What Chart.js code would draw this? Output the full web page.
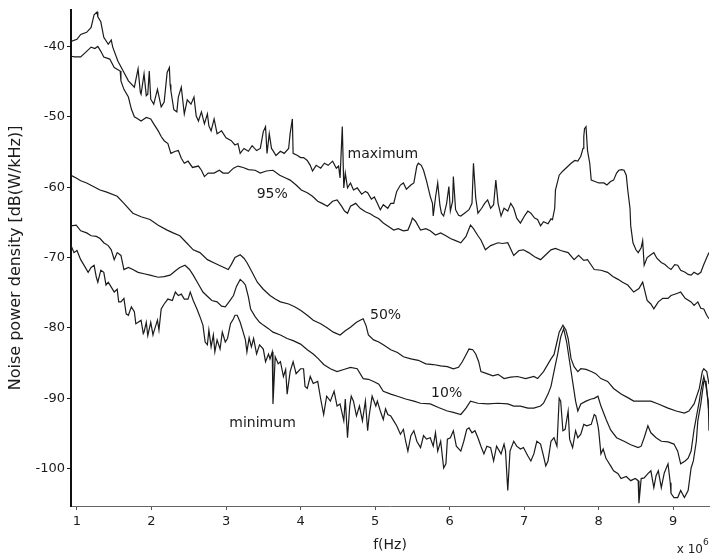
<!DOCTYPE html>
<html>
<head>
<meta charset="utf-8">
<title>Noise power density</title>
<script src="https://cdn.jsdelivr.net/npm/chart.js@4.4.1/dist/chart.umd.min.js"></script>
<style>
  html, body { margin: 0; padding: 0; background: #fff; }
  canvas { display: block; }
</style>
</head>
<body>
<canvas id="psdChart" width="710" height="558"></canvas>
<script>
// axis ticks
const freqTicks = [1, 2, 3, 4, 5, 6, 7, 8, 9];
const dbTicks = [-100, -90, -80, -70, -60, -50, -40];

// maximum
const maxFreq = [
  0.92, 1.00, 1.05, 1.13, 1.19, 1.23, 1.27, 1.28, 1.32, 1.36,
  1.42, 1.46, 1.48, 1.55, 1.62, 1.69, 1.77, 1.82, 1.85, 1.86,
  1.90, 1.93, 1.95, 1.97, 1.99, 2.03, 2.08, 2.13, 2.17, 2.21,
  2.24, 2.25, 2.26, 2.30, 2.34, 2.36, 2.40, 2.44, 2.48, 2.53,
  2.57, 2.60, 2.63, 2.67, 2.71, 2.75, 2.77, 2.80, 2.84, 2.88,
  2.94, 3.00, 3.07, 3.12, 3.16, 3.19, 3.24, 3.30, 3.35, 3.41,
  3.46, 3.50, 3.53, 3.55, 3.58, 3.61, 3.63, 3.67, 3.73, 3.78,
  3.84, 3.86, 3.89, 3.90, 3.96, 4.00, 4.04, 4.09, 4.13, 4.16,
  4.21, 4.27, 4.32, 4.37, 4.43, 4.48, 4.51, 4.53, 4.56, 4.58,
  4.60, 4.63, 4.67, 4.71, 4.76, 4.82, 4.87, 4.90, 4.95, 4.99,
  5.03, 5.07, 5.11, 5.17, 5.21, 5.25, 5.29, 5.34, 5.38, 5.42,
  5.48, 5.52, 5.56, 5.58, 5.62, 5.65, 5.69, 5.74, 5.77, 5.78,
  5.81, 5.84, 5.87, 5.89, 5.92, 5.96, 5.99, 6.01, 6.04, 6.05,
  6.08, 6.12, 6.15, 6.20, 6.26, 6.30, 6.32, 6.35, 6.38, 6.43,
  6.47, 6.51, 6.55, 6.59, 6.62, 6.65, 6.69, 6.73, 6.78, 6.82,
  6.86, 6.90, 6.95, 7.01, 7.05, 7.09, 7.14, 7.18, 7.22, 7.26,
  7.32, 7.36, 7.38, 7.41, 7.42, 7.47, 7.52, 7.57, 7.63, 7.68,
  7.72, 7.76, 7.79, 7.80, 7.81, 7.83, 7.85, 7.88, 7.90, 7.95,
  8.00, 8.07, 8.11, 8.16, 8.20, 8.24, 8.27, 8.31, 8.34, 8.37,
  8.39, 8.42, 8.43, 8.46, 8.50, 8.53, 8.57, 8.59, 8.61, 8.65,
  8.70, 8.74, 8.78, 8.84, 8.89, 8.93, 8.97, 9.02, 9.06, 9.10,
  9.16, 9.20, 9.24, 9.28, 9.33, 9.37, 9.41, 9.45, 9.48
];
const maxDb = [
  -39.3, -39.0, -38.3, -38.0, -37.3, -35.5, -35.1, -35.8, -36.5, -38.7,
  -39.7, -39.1, -40.1, -42.1, -43.5, -44.9, -45.8, -43.2, -46.5, -46.8,
  -43.9, -47.0, -46.8, -43.5, -47.5, -48.2, -46.1, -48.6, -47.9, -43.7,
  -43.0, -45.4, -46.3, -49.0, -49.3, -47.2, -45.8, -49.6, -47.6, -48.2,
  -47.2, -49.9, -50.6, -49.3, -51.0, -49.6, -51.3, -52.0, -50.3, -52.4,
  -52.0, -53.0, -53.4, -54.0, -53.8, -55.2, -54.5, -54.9, -54.1, -54.8,
  -54.5, -52.1, -51.4, -55.2, -52.4, -54.5, -54.8, -55.5, -54.9, -55.2,
  -54.5, -52.4, -50.3, -55.2, -55.5, -55.8, -55.8, -56.2, -56.9, -57.7,
  -56.9, -57.3, -56.6, -56.9, -56.3, -57.3, -57.0, -58.7, -51.4, -60.1,
  -58.0, -60.1, -59.4, -60.4, -60.1, -61.0, -60.6, -60.8, -61.7, -61.4,
  -62.3, -63.2, -62.5, -63.0, -62.3, -62.3, -60.6, -59.7, -59.4, -60.3,
  -59.7, -59.4, -57.0, -56.6, -56.9, -57.6, -59.1, -61.3, -62.3, -64.1,
  -61.5, -59.4, -62.6, -63.7, -64.1, -62.3, -59.9, -63.4, -62.0, -58.5,
  -63.2, -64.0, -64.1, -63.7, -63.2, -62.3, -56.6, -61.5, -63.7, -63.0,
  -62.3, -61.8, -63.0, -62.5, -59.0, -62.3, -64.1, -63.0, -63.4, -62.3,
  -63.0, -64.4, -65.1, -64.0, -63.4, -63.7, -64.4, -64.6, -65.5, -64.9,
  -65.2, -64.5, -64.6, -63.0, -60.4, -58.3, -57.7, -57.2, -56.6, -56.2,
  -56.3, -55.6, -54.5, -52.8, -51.7, -51.4, -54.8, -56.6, -59.0, -59.2,
  -59.4, -59.4, -59.7, -59.2, -59.0, -58.0, -57.6, -57.5, -57.6, -58.3,
  -60.4, -63.0, -65.5, -67.9, -68.9, -69.3, -68.6, -67.6, -71.1, -70.0,
  -69.6, -69.3, -70.1, -70.7, -71.0, -71.4, -71.7, -71.0, -71.1, -71.8,
  -72.1, -72.4, -72.5, -72.1, -72.4, -72.1, -71.0, -70.0, -69.3
];

// 95 %
const p95Freq = [
  0.92, 0.97, 1.05, 1.13, 1.19, 1.24, 1.28, 1.32, 1.36, 1.44,
  1.50, 1.58, 1.59, 1.63, 1.69, 1.73, 1.77, 1.82, 1.86, 1.93,
  1.99, 2.03, 2.09, 2.13, 2.17, 2.22, 2.26, 2.32, 2.36, 2.40,
  2.44, 2.49, 2.55, 2.63, 2.67, 2.71, 2.76, 2.84, 2.91, 2.96,
  3.03, 3.10, 3.16, 3.23, 3.30, 3.39, 3.46, 3.54, 3.63, 3.72,
  3.80, 3.86, 3.94, 4.01, 4.09, 4.16, 4.23, 4.29, 4.36, 4.43,
  4.49, 4.55, 4.59, 4.63, 4.67, 4.74, 4.80, 4.87, 4.94, 4.98,
  5.05, 5.11, 5.18, 5.25, 5.31, 5.38, 5.44, 5.48, 5.50, 5.54,
  5.61, 5.68, 5.74, 5.81, 5.88, 5.95, 6.01, 6.08, 6.15, 6.22,
  6.26, 6.28, 6.32, 6.38, 6.42, 6.48, 6.55, 6.65, 6.71, 6.78,
  6.86, 6.93, 6.99, 7.06, 7.14, 7.22, 7.29, 7.36, 7.42, 7.49,
  7.59, 7.67, 7.73, 7.80, 7.85, 7.94, 8.03, 8.12, 8.19, 8.26,
  8.32, 8.39, 8.47, 8.54, 8.59, 8.65, 8.70, 8.74, 8.80, 8.86,
  8.93, 8.97, 9.05, 9.10, 9.16, 9.24, 9.28, 9.33, 9.37, 9.41,
  9.45, 9.48
];
const p95Db = [
  -41.4, -41.5, -41.5, -40.7, -40.1, -40.3, -40.0, -40.7, -41.5, -41.8,
  -43.0, -43.5, -44.9, -46.1, -47.2, -48.9, -50.0, -50.3, -50.6, -50.1,
  -50.3, -51.0, -52.0, -52.8, -53.4, -53.8, -55.2, -54.9, -54.8, -55.9,
  -56.6, -56.3, -57.2, -57.0, -57.6, -58.5, -58.0, -58.0, -57.6, -58.0,
  -58.0, -57.3, -57.0, -57.2, -57.5, -57.6, -58.0, -57.7, -57.6, -58.3,
  -58.7, -59.0, -59.7, -60.4, -60.8, -61.3, -62.0, -62.3, -62.7, -62.0,
  -61.8, -62.7, -63.4, -63.7, -62.7, -62.3, -63.0, -63.5, -63.8, -64.1,
  -64.5, -65.1, -65.6, -66.1, -65.9, -66.2, -66.1, -65.1, -64.4, -64.8,
  -66.1, -65.9, -66.2, -66.8, -66.5, -66.9, -67.3, -67.6, -67.9, -67.0,
  -65.9, -65.4, -65.9, -66.9, -67.5, -68.9, -68.3, -67.9, -68.0, -67.9,
  -69.7, -69.0, -68.9, -69.3, -69.9, -70.3, -69.6, -68.9, -68.7, -69.0,
  -69.3, -70.3, -69.7, -70.4, -70.3, -71.7, -71.8, -72.1, -72.7, -73.1,
  -73.5, -73.9, -74.9, -74.4, -73.5, -76.1, -76.6, -77.3, -76.3, -75.8,
  -75.8, -75.4, -75.1, -74.9, -75.8, -76.3, -76.8, -76.3, -77.2, -77.3,
  -78.2, -78.7
];

// 50 %
const p50Freq = [
  0.92, 0.99, 1.05, 1.13, 1.22, 1.31, 1.40, 1.54, 1.63, 1.75,
  1.86, 1.98, 2.09, 2.21, 2.29, 2.38, 2.47, 2.56, 2.65, 2.75,
  2.85, 2.95, 3.03, 3.07, 3.12, 3.19, 3.24, 3.28, 3.35, 3.42,
  3.50, 3.59, 3.66, 3.73, 3.84, 3.92, 4.00, 4.09, 4.17, 4.27,
  4.36, 4.44, 4.53, 4.60, 4.67, 4.75, 4.80, 4.84, 4.88, 4.91,
  4.98, 5.05, 5.11, 5.21, 5.30, 5.38, 5.48, 5.58, 5.68, 5.78,
  5.88, 5.97, 6.05, 6.12, 6.17, 6.22, 6.26, 6.31, 6.35, 6.39,
  6.42, 6.50, 6.58, 6.65, 6.73, 6.82, 6.91, 7.02, 7.13, 7.18,
  7.26, 7.36, 7.40, 7.44, 7.47, 7.52, 7.56, 7.59, 7.63, 7.67,
  7.72, 7.76, 7.83, 7.90, 7.96, 8.03, 8.12, 8.20, 8.30, 8.39,
  8.47, 8.57, 8.70, 8.80, 8.93, 9.04, 9.15, 9.21, 9.28, 9.35,
  9.39, 9.41, 9.45, 9.48
];
const p50Db = [
  -58.3, -58.7, -59.1, -59.4, -59.9, -60.4, -60.7, -61.3, -62.3, -63.7,
  -64.2, -64.6, -65.4, -66.1, -66.5, -66.9, -67.9, -68.9, -69.3, -70.3,
  -70.8, -71.3, -71.7, -71.0, -70.0, -69.6, -70.1, -70.7, -72.1, -73.5,
  -74.5, -75.4, -75.9, -76.3, -76.6, -77.0, -77.5, -78.2, -78.9, -79.4,
  -80.0, -80.6, -81.0, -80.4, -79.9, -79.2, -78.9, -78.7, -79.7, -81.0,
  -81.7, -82.0, -82.4, -83.1, -83.5, -84.1, -84.4, -84.6, -85.1, -85.2,
  -85.4, -85.5, -85.8, -85.6, -84.8, -83.8, -83.0, -83.1, -83.7, -84.8,
  -86.2, -86.5, -86.8, -86.6, -87.2, -87.0, -86.9, -87.2, -86.9, -87.2,
  -86.2, -84.4, -83.8, -82.0, -80.6, -79.6, -80.3, -81.5, -84.4, -85.5,
  -86.2, -85.8, -85.9, -86.2, -86.5, -87.2, -87.6, -88.6, -89.4, -89.9,
  -90.4, -90.4, -90.4, -90.8, -91.4, -91.8, -92.1, -91.8, -90.8, -88.6,
  -86.2, -85.8, -86.2, -88.0
];

// 10 %
const p10Freq = [
  0.92, 0.99, 1.05, 1.13, 1.19, 1.26, 1.31, 1.36, 1.42, 1.46,
  1.50, 1.54, 1.59, 1.63, 1.69, 1.75, 1.82, 1.90, 1.98, 2.09,
  2.17, 2.25, 2.33, 2.38, 2.45, 2.51, 2.56, 2.63, 2.69, 2.76,
  2.81, 2.88, 2.94, 2.99, 3.04, 3.10, 3.14, 3.19, 3.23, 3.26,
  3.30, 3.33, 3.39, 3.45, 3.50, 3.57, 3.63, 3.73, 3.82, 3.90,
  4.00, 4.09, 4.17, 4.24, 4.31, 4.40, 4.49, 4.58, 4.67, 4.76,
  4.84, 4.91, 4.98, 5.05, 5.11, 5.21, 5.30, 5.41, 5.52, 5.61,
  5.74, 5.85, 5.97, 6.05, 6.15, 6.22, 6.28, 6.38, 6.51, 6.65,
  6.78, 6.86, 6.95, 7.05, 7.13, 7.22, 7.26, 7.32, 7.36, 7.40,
  7.45, 7.49, 7.53, 7.57, 7.61, 7.65, 7.69, 7.72, 7.76, 7.83,
  7.90, 7.94, 7.99, 8.03, 8.10, 8.16, 8.24, 8.34, 8.43, 8.53,
  8.57, 8.61, 8.66, 8.70, 8.77, 8.84, 8.93, 9.01, 9.06, 9.10,
  9.16, 9.20, 9.24, 9.28, 9.32, 9.35, 9.37, 9.41, 9.44, 9.47,
  9.48
];
const p10Db = [
  -65.5, -65.4, -66.2, -66.5, -66.9, -67.0, -67.3, -67.9, -68.3, -68.9,
  -70.3, -69.3, -69.7, -71.7, -71.4, -71.7, -72.1, -72.3, -72.5, -72.8,
  -72.7, -72.5, -71.8, -71.4, -71.1, -71.7, -72.5, -73.8, -74.9, -75.6,
  -76.1, -76.3, -76.9, -77.0, -76.3, -75.4, -74.1, -73.1, -73.5, -73.9,
  -75.6, -77.3, -78.4, -79.2, -79.6, -80.1, -80.6, -81.0, -81.5, -81.8,
  -82.3, -83.1, -83.7, -84.4, -85.2, -85.8, -86.2, -85.9, -85.6, -85.8,
  -87.2, -87.3, -87.6, -88.0, -89.0, -89.4, -89.7, -90.1, -90.4, -90.7,
  -90.8, -91.3, -91.8, -92.0, -92.3, -91.4, -90.4, -90.7, -90.8, -90.7,
  -90.8, -91.1, -91.1, -91.4, -91.4, -91.1, -90.7, -89.4, -88.3, -86.2,
  -83.7, -81.3, -80.1, -82.0, -84.8, -87.6, -90.4, -91.8, -90.8, -90.4,
  -90.1, -90.0, -89.7, -91.1, -93.0, -94.5, -95.6, -96.1, -96.6, -97.0,
  -96.8, -95.6, -93.9, -94.9, -95.6, -96.1, -96.2, -96.5, -97.5, -99.3,
  -98.9, -98.5, -97.5, -94.4, -92.1, -90.4, -89.0, -86.9, -88.3, -90.4,
  -94.6
];

// minimum
const minFreq = [
  0.92, 0.96, 1.00, 1.05, 1.09, 1.15, 1.19, 1.23, 1.26, 1.28,
  1.32, 1.36, 1.39, 1.42, 1.46, 1.50, 1.54, 1.56, 1.59, 1.63,
  1.66, 1.69, 1.73, 1.77, 1.79, 1.82, 1.86, 1.89, 1.90, 1.93,
  1.95, 1.99, 2.02, 2.03, 2.08, 2.10, 2.13, 2.17, 2.22, 2.28,
  2.32, 2.36, 2.40, 2.44, 2.49, 2.52, 2.56, 2.61, 2.65, 2.69,
  2.72, 2.75, 2.77, 2.80, 2.83, 2.85, 2.88, 2.92, 2.95, 2.99,
  3.02, 3.06, 3.10, 3.12, 3.15, 3.19, 3.23, 3.26, 3.28, 3.31,
  3.34, 3.37, 3.41, 3.45, 3.50, 3.53, 3.57, 3.59, 3.62, 3.63,
  3.66, 3.70, 3.73, 3.77, 3.80, 3.82, 3.86, 3.90, 3.94, 4.00,
  4.04, 4.06, 4.09, 4.13, 4.17, 4.23, 4.27, 4.31, 4.35, 4.40,
  4.45, 4.49, 4.53, 4.58, 4.60, 4.63, 4.66, 4.68, 4.71, 4.75,
  4.79, 4.83, 4.87, 4.90, 4.92, 4.96, 5.01, 5.03, 5.07, 5.11,
  5.14, 5.17, 5.21, 5.25, 5.29, 5.34, 5.38, 5.41, 5.44, 5.48,
  5.52, 5.56, 5.61, 5.65, 5.69, 5.74, 5.78, 5.81, 5.84, 5.88,
  5.92, 5.95, 5.97, 6.01, 6.05, 6.09, 6.15, 6.19, 6.23, 6.26,
  6.30, 6.34, 6.38, 6.42, 6.46, 6.50, 6.55, 6.59, 6.63, 6.69,
  6.73, 6.75, 6.78, 6.81, 6.86, 6.90, 6.95, 6.99, 7.05, 7.09,
  7.13, 7.17, 7.22, 7.26, 7.29, 7.32, 7.36, 7.40, 7.44, 7.47,
  7.49, 7.52, 7.55, 7.59, 7.61, 7.65, 7.69, 7.72, 7.76, 7.80,
  7.84, 7.90, 7.94, 7.96, 7.99, 8.00, 8.03, 8.06, 8.10, 8.12,
  8.16, 8.20, 8.26, 8.30, 8.37, 8.43, 8.49, 8.53, 8.54, 8.57,
  8.61, 8.66, 8.70, 8.74, 8.77, 8.80, 8.84, 8.88, 8.93, 8.96,
  8.97, 9.01, 9.06, 9.10, 9.15, 9.20, 9.24, 9.27, 9.31, 9.33,
  9.37, 9.41, 9.44, 9.47, 9.48
];
const minDb = [
  -68.3, -69.3, -69.0, -70.3, -71.0, -72.1, -71.4, -71.1, -72.8, -73.5,
  -71.8, -72.1, -73.9, -73.5, -74.2, -74.9, -74.5, -76.3, -76.3, -75.8,
  -78.0, -78.2, -77.0, -77.7, -79.4, -79.2, -78.9, -80.8, -80.6, -79.2,
  -81.1, -79.2, -81.0, -80.6, -78.9, -80.3, -77.3, -76.6, -75.9, -76.1,
  -74.9, -75.4, -75.2, -75.9, -75.9, -74.9, -76.1, -77.3, -78.4, -79.6,
  -82.0, -82.4, -80.3, -82.7, -81.0, -83.4, -81.7, -83.0, -80.6, -82.0,
  -81.5, -79.4, -78.7, -78.2, -78.2, -79.2, -80.6, -81.7, -83.4, -81.4,
  -82.7, -81.5, -83.7, -82.4, -83.0, -84.8, -83.7, -84.4, -83.4, -90.8,
  -84.1, -85.1, -84.8, -86.9, -85.9, -89.4, -86.2, -84.8, -86.5, -85.8,
  -85.8, -88.3, -88.6, -86.9, -87.9, -87.6, -90.1, -92.3, -89.7, -90.4,
  -89.0, -91.1, -90.8, -93.2, -90.1, -95.6, -91.1, -89.7, -90.4, -92.5,
  -91.1, -93.2, -90.4, -94.6, -92.5, -89.7, -91.1, -90.4, -91.8, -93.0,
  -91.5, -92.3, -92.5, -93.2, -93.9, -95.1, -94.4, -96.1, -97.5, -95.3,
  -94.6, -96.1, -97.0, -95.3, -95.8, -95.6, -96.8, -94.9, -97.5, -96.1,
  -99.9, -99.3, -95.8, -95.6, -94.6, -96.8, -97.5, -96.1, -94.4, -94.2,
  -94.9, -94.6, -95.6, -96.8, -97.9, -96.8, -97.0, -98.9, -96.8, -97.9,
  -96.5, -97.5, -103.1, -97.5, -96.1, -96.8, -97.2, -97.0, -98.2, -98.9,
  -97.9, -96.1, -96.5, -98.2, -99.6, -98.9, -96.1, -95.6, -96.8, -90.0,
  -90.4, -94.6, -94.4, -91.8, -95.8, -97.0, -94.6, -95.6, -95.1, -93.7,
  -93.9, -93.7, -92.3, -92.5, -93.9, -94.6, -97.9, -97.2, -98.6, -98.9,
  -99.6, -100.3, -100.7, -101.4, -101.1, -101.7, -101.4, -101.7, -104.9, -101.4,
  -101.3, -100.7, -100.3, -102.7, -101.0, -100.3, -102.7, -100.6, -99.3, -102.0,
  -103.5, -104.1, -104.1, -103.1, -104.1, -103.1, -99.9, -98.9, -96.1, -93.2,
  -90.8, -87.6, -87.6, -91.1, -92.3
];

// text written next to the curves (data units)
const curveLabels = [
  { text: 'maximum', freq: 4.63, db: -55.3, align: 'left' },
  { text: '95%', freq: 3.62, db: -61.0, align: 'center' },
  { text: '50%', freq: 5.14, db: -78.2, align: 'center' },
  { text: '10%', freq: 5.96, db: -89.3, align: 'center' },
  { text: 'minimum', freq: 3.49, db: -93.5, align: 'center' }
];

const FONT = '"DejaVu Sans", Verdana, sans-serif';
const INK = '#1b1b1b';

function toPoints(freqs, dbs) {
  return freqs.map((f, i) => ({ x: f, y: dbs[i] }));
}

function curve(label, freqs, dbs) {
  return {
    label: label,
    data: toPoints(freqs, dbs),
    borderColor: INK,
    borderWidth: 1.2,
    pointRadius: 0,
    tension: 0,
    fill: false
  };
}

// labels beside the curves + the "x 10^6" multiplier under the x axis
const annotatePlugin = {
  id: 'annotate',
  afterDatasetsDraw(chart) {
    const { ctx, scales } = chart;
    ctx.save();
    ctx.fillStyle = INK;
    ctx.font = '14px ' + FONT;
    ctx.textBaseline = 'middle';
    curveLabels.forEach(l => {
      ctx.textAlign = l.align;
      ctx.fillText(l.text, scales.x.getPixelForValue(l.freq), scales.y.getPixelForValue(l.db));
    });

    ctx.textAlign = 'right';
    ctx.textBaseline = 'alphabetic';
    ctx.font = '12px ' + FONT;
    ctx.fillText('x 10', 703, 553);
    ctx.textAlign = 'left';
    ctx.font = '9px ' + FONT;
    ctx.fillText('6', 703, 545);
    ctx.restore();
  }
};

const chart = new Chart(document.getElementById('psdChart'), {
  type: 'line',
  data: {
    datasets: [
      curve('maximum', maxFreq, maxDb),
      curve('95%', p95Freq, p95Db),
      curve('50%', p50Freq, p50Db),
      curve('10%', p10Freq, p10Db),
      curve('minimum', minFreq, minDb)
    ]
  },
  options: {
    responsive: false,
    animation: false,
    layout: { padding: { top: 5, right: 1, left: 0, bottom: 0 } },
    plugins: {
      legend: { display: false },
      tooltip: { enabled: false }
    },
    scales: {
      x: {
        type: 'linear',
        min: 0.92,
        max: 9.48,
        afterBuildTicks: s => { s.ticks = freqTicks.map(v => ({ value: v })); },
        afterFit: s => { s.height = 52; },
        grid: { drawOnChartArea: false, drawTicks: true, tickLength: 4, color: '#555' },
        border: { display: true, color: '#666', width: 1, dash: [2, 1] },
        ticks: { color: INK, padding: 4, font: { family: FONT, size: 13 } },
        title: {
          display: true,
          text: 'f(Hz)',
          color: INK,
          padding: { top: 0, bottom: 4 },
          font: { family: FONT, size: 14 }
        }
      },
      y: {
        type: 'linear',
        min: -105.3,
        max: -34.8,
        afterBuildTicks: s => { s.ticks = dbTicks.map(v => ({ value: v })); },
        afterFit: s => { s.width = 71; },
        grid: { drawOnChartArea: false, drawTicks: true, tickLength: 4, color: INK },
        border: { display: true, color: '#111', width: 2 },
        ticks: { color: INK, padding: 2, font: { family: FONT, size: 13 } },
        title: {
          display: true,
          text: 'Noise power density [dB(W/kHz)]',
          color: INK,
          padding: { top: 6, bottom: 0 },
          font: { family: FONT, size: 16 }
        }
      }
    }
  },
  plugins: [annotatePlugin]
});
</script>
</body>
</html>
